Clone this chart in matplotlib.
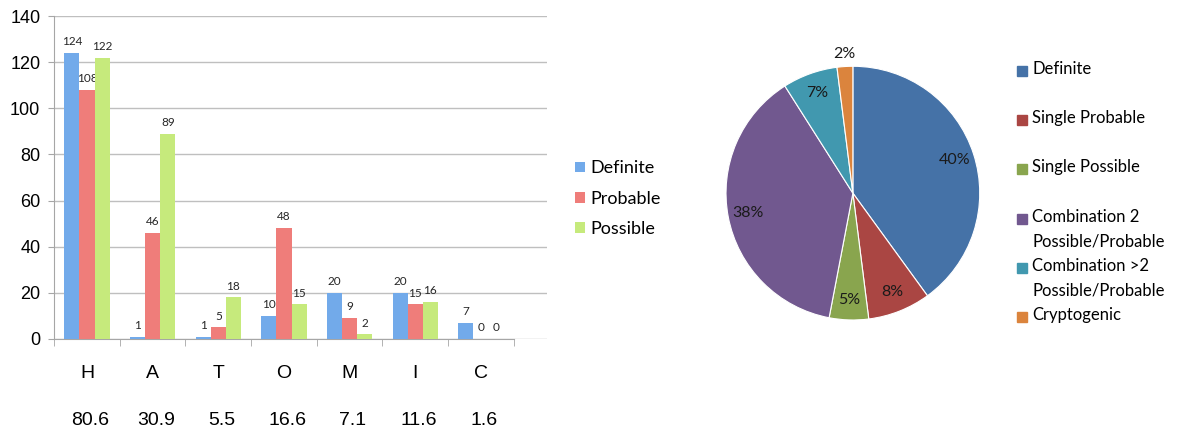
import numpy as np
import matplotlib
matplotlib.use("Agg")
import matplotlib.pyplot as plt
from matplotlib.patches import Rectangle
from matplotlib.transforms import blended_transform_factory

# bar chart data
categories = ["H", "A", "T", "O", "M", "I", "C"]
definite = [124, 1, 1, 10, 20, 20, 7]
probable = [108, 46, 5, 48, 9, 15, 0]
possible = [122, 89, 18, 15, 2, 16, 0]
row_values = ["80.6", "30.9", "5.5", "16.6", "7.1", "11.6", "1.6"]
series_names = ["Definite", "Probable", "Possible"]

# pie chart data
pie_labels = ["Definite", "Single Probable", "Single Possible",
              "Combination 2\nPossible/Probable",
              "Combination >2\nPossible/Probable", "Cryptogenic"]
pie_values = [40, 8, 5, 38, 7, 2]

bar_colors = ["#72aaea", "#ef7d7a", "#c6ea7c"]
pie_colors = ["#4572a7", "#aa4643", "#89a54e", "#71588f", "#4198af", "#db843d"]

calibri_like = "Lato"
arial_like = "Liberation Sans"

fig = plt.figure(figsize=(11.78, 4.34), dpi=100)

# ---- grouped bars ----
ax = fig.add_axes([0.046, 0.219, 0.418, 0.744])
x = np.arange(len(categories))
w = 0.23
series = [definite, probable, possible]
bars = []
for i, (vals, col) in enumerate(zip(series, bar_colors)):
    b = ax.bar(x + (i - 1) * w, vals, w, color=col, zorder=3, label=series_names[i])
    bars.append(b)
    for xi, v in zip(x + (i - 1) * w, vals):
        ax.text(xi, v + 2.5, str(v), ha="center", va="bottom", fontsize=8.5,
                color="#262626", family=calibri_like)

ax.set_xlim(-0.5, 7.0)
ax.set_ylim(0, 140)
ax.set_yticks(range(0, 141, 20))
ax.grid(axis="y", color="#bfbfbf", linewidth=1, zorder=0)
for s in ["top", "right"]:
    ax.spines[s].set_visible(False)
ax.spines["left"].set_color("#a6a6a6")
ax.spines["bottom"].set_color("#a6a6a6")
ax.spines["bottom"].set_bounds(-0.5, 6.5)
ax.tick_params(axis="y", length=4, color="#a6a6a6", labelsize=13, pad=6)
for lab in ax.get_yticklabels():
    lab.set_family(arial_like)

ax.set_xticks(x)
ax.set_xticklabels(categories, family=arial_like, fontsize=14)
ax.set_xticks(np.arange(-0.5, 7, 1), minor=True)
ax.tick_params(axis="x", which="major", length=0, pad=19)
ax.tick_params(axis="x", which="minor", length=5, color="#a6a6a6")

# second row of numbers under the category letters
trans = blended_transform_factory(ax.transData, fig.transFigure)
for xi, val in zip(x, row_values):
    ax.text(xi + 0.05, 0.031, val, transform=trans, ha="center", va="center",
            fontsize=14, family=arial_like)

fig.legend(handles=bars, labels=series_names, loc="upper left",
           bbox_to_anchor=(0.474, 0.668), frameon=False,
           prop={"family": calibri_like, "size": 13},
           handlelength=0.55, handleheight=0.55, handletextpad=0.3,
           labelspacing=0.8)

# ---- pie ----
pax = fig.add_axes([0.584, 0.175, 0.280, 0.760])
wedges, _ = pax.pie(pie_values, colors=pie_colors, startangle=90,
                    counterclock=False,
                    wedgeprops={"edgecolor": "white", "linewidth": 0.8})
pax.set_xlim(-1.3, 1.3)
pax.set_ylim(-1.3, 1.3)
pax.set_aspect("equal")

total = sum(pie_values)
start = 90.0
for v in pie_values:
    mid = np.deg2rad(start - v / total * 180.0)
    dist = 1.1 if v / total < 0.03 else 0.84
    pax.text(dist * np.cos(mid), dist * np.sin(mid), f"{v}%", ha="center",
             va="center", fontsize=11.5, family=calibri_like, color="#1a1a1a")
    start -= v / total * 360.0

# pie legend
for i, (lab, col) in enumerate(zip(pie_labels, pie_colors)):
    yc = 1 - (71 + 49.2 * i) / 434
    fig.patches.append(Rectangle((1017 / 1178, yc - 5 / 434), 10 / 1178, 10 / 434,
                                 transform=fig.transFigure, color=col))
    fig.text(1032 / 1178, yc + 10 / 434, lab, ha="left", va="top",
             fontsize=12, family=calibri_like, linespacing=1.65)

fig.savefig("out.png", dpi=100)
